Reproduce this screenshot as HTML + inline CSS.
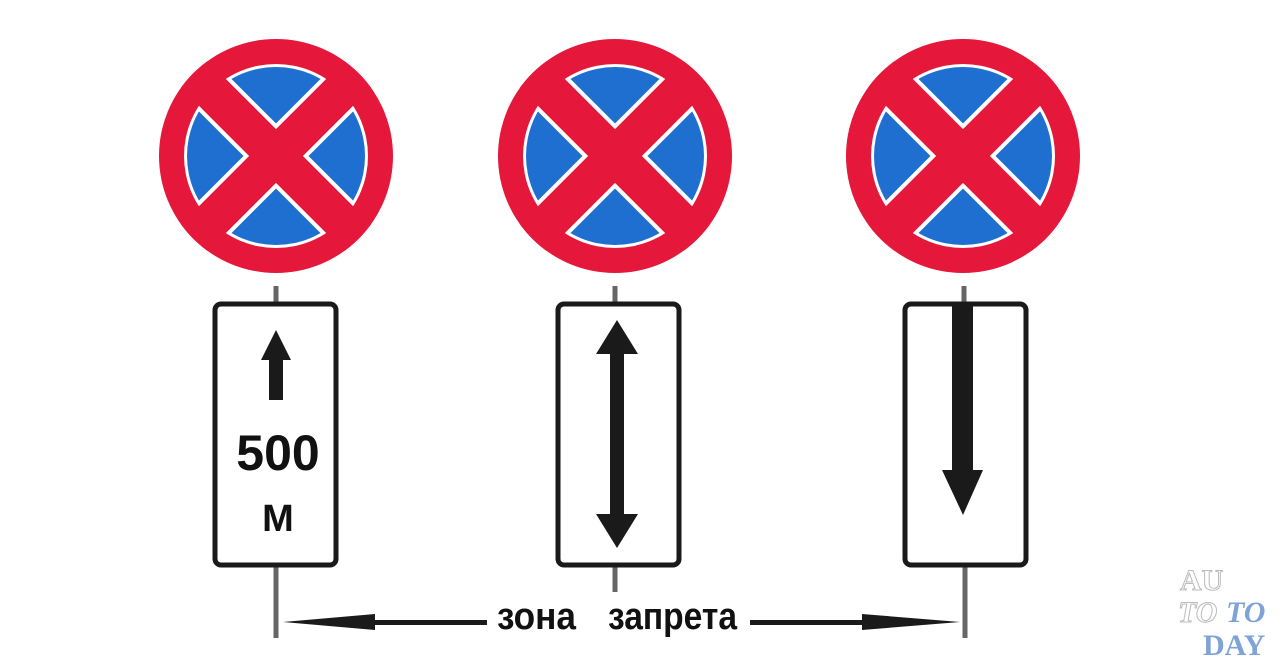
<!DOCTYPE html>
<html><head><meta charset="utf-8"><style>
html,body{margin:0;padding:0;background:#fff;width:1280px;height:665px;overflow:hidden}
</style></head><body>
<svg width="1280" height="665" viewBox="0 0 1280 665" xmlns="http://www.w3.org/2000/svg">
<defs>
<clipPath id="c"><circle cx="0" cy="0" r="91"/></clipPath>
<clipPath id="o"><circle cx="0" cy="0" r="117"/></clipPath>
<g id="sign">
<circle r="117" fill="#e5173a"/>
<circle r="92" fill="#fff"/>
<circle r="89" fill="#1e6fd0"/>
<g clip-path="url(#c)">
<line x1="-100" y1="-100" x2="100" y2="100" stroke="#fff" stroke-width="46"/>
<line x1="100" y1="-100" x2="-100" y2="100" stroke="#fff" stroke-width="46"/>
</g>
<g clip-path="url(#o)">
<line x1="-95" y1="-95" x2="95" y2="95" stroke="#e5173a" stroke-width="38"/>
<line x1="95" y1="-95" x2="-95" y2="95" stroke="#e5173a" stroke-width="38"/>
</g>
</g>
</defs>
<use href="#sign" x="276" y="156"/>
<use href="#sign" x="615" y="156"/>
<use href="#sign" x="963" y="156"/>
<g stroke="#666" stroke-width="5">
<line x1="276" y1="286" x2="276" y2="302"/>
<line x1="276" y1="567" x2="276" y2="638"/>
<line x1="615" y1="286" x2="615" y2="302"/>
<line x1="615" y1="567" x2="615" y2="592"/>
<line x1="964" y1="286" x2="964" y2="302"/>
<line x1="965" y1="567" x2="965" y2="638"/>
</g>
<g fill="#fff" stroke="#1a1a1a" stroke-width="5">
<rect x="215" y="304" width="121" height="261" rx="6"/>
<rect x="558" y="304" width="121" height="261" rx="6"/>
<rect x="905" y="304" width="121" height="261" rx="6"/>
</g>
<g fill="#1a1a1a">
<polygon points="276,330 291,360 283,360 283,400 269,400 269,360 261,360"/>
<polygon points="617,320 638,354 624,354 624,514 638,514 617,548 596,514 610,514 610,354 596,354"/>
<polygon points="952,306 973,306 973,470 983,470 963,515 942,470 952,470"/>
<polygon points="283,622 375,614 375,620 487,620 487,625 375,625 375,630"/>
<polygon points="960,622 862,614 862,620 750,620 750,625 862,625 862,630"/>
</g>
<g font-family="Liberation Sans, sans-serif" font-weight="bold" fill="#111">
<text x="278" y="470" font-size="50" text-anchor="middle">500</text>
<text x="278" y="531" font-size="38" text-anchor="middle">М</text>
<text x="497" y="629" font-size="38" textLength="79" lengthAdjust="spacingAndGlyphs">зона</text>
<text x="608" y="629" font-size="38" textLength="129" lengthAdjust="spacingAndGlyphs">запрета</text>
</g>
<g font-family="Liberation Serif, serif" font-weight="bold" font-size="30" text-anchor="start">
<text x="1180" y="590" fill="#fff" stroke="#bbb" stroke-width="1">AU</text>
<text x="1178" y="622" fill="#fff" stroke="#bbb" stroke-width="1" font-style="italic">TO</text>
<text x="1226" y="622" fill="#7fa3d6" font-style="italic">TO</text>
<text x="1203" y="655" fill="#7fa3d6">DAY</text>
</g>
</svg>
</body></html>
